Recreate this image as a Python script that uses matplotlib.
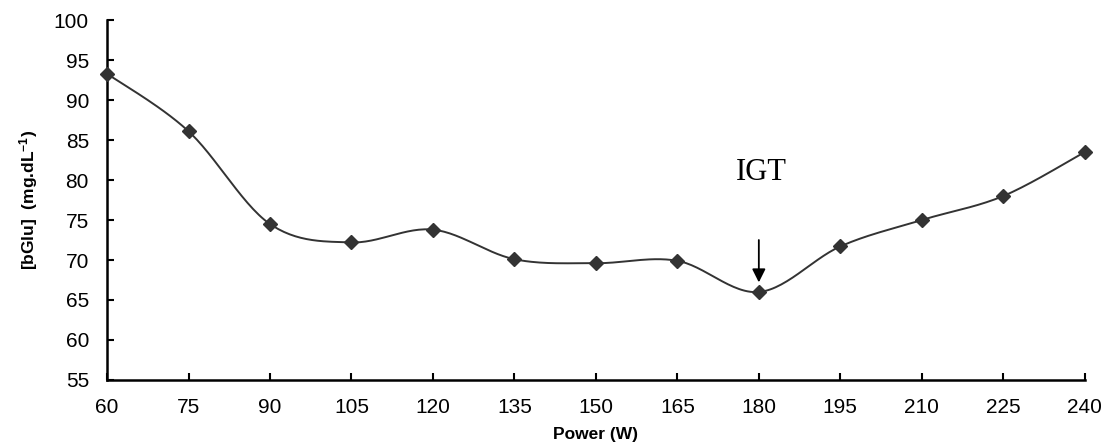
import matplotlib
matplotlib.use("Agg")
import matplotlib.pyplot as plt
import numpy as np

# data
power = [60, 75, 90, 105, 120, 135, 150, 165, 180, 195, 210, 225, 240]
bglu = [93.3, 86.1, 74.5, 72.2, 73.8, 70.1, 69.6, 69.9, 66.0, 71.7, 75.0, 78.0, 83.5]


# smoothed line like the spreadsheet one (Catmull-Rom through the points)
def smooth(x, y, n=30):
    x = np.asarray(x, float)
    y = np.asarray(y, float)
    px = np.concatenate([[x[0]], x, [x[-1]]])
    py = np.concatenate([[y[0]], y, [y[-1]]])
    xs, ys = [], []
    t = np.linspace(0, 1, n)
    for i in range(1, len(px) - 2):
        p0 = np.array([px[i], py[i]])
        p3 = np.array([px[i + 1], py[i + 1]])
        c1 = p0 + (p3 - np.array([px[i - 1], py[i - 1]])) / 6
        c2 = p3 - (np.array([px[i + 2], py[i + 2]]) - p0) / 6
        b = ((1 - t) ** 3)[:, None] * p0 + (3 * (1 - t) ** 2 * t)[:, None] * c1 \
            + (3 * (1 - t) * t ** 2)[:, None] * c2 + (t ** 3)[:, None] * p3
        xs.extend(b[:, 0])
        ys.extend(b[:, 1])
    return xs, ys


plt.rcParams['font.family'] = ['Liberation Sans', 'DejaVu Sans']
plt.rcParams['mathtext.default'] = 'regular'

fig = plt.figure(figsize=(11.08, 4.47), dpi=100)
ax = fig.add_axes([0.0966, 0.150, 0.8824, 0.805])

sx, sy = smooth(power, bglu)
ax.plot(sx, sy, color='#333333', lw=1.4, clip_on=False)
ax.plot(power, bglu, 'D', color='#333333', ms=7, clip_on=False, zorder=3)

ax.annotate('', xy=(180, 67.2), xytext=(180, 72.5),
            arrowprops=dict(arrowstyle='-|>', color='black', lw=1.3,
                            mutation_scale=20, shrinkA=0, shrinkB=0))
ax.text(180.5, 81, 'IGT', family='Liberation Serif', fontsize=22,
        ha='center', va='center')

ax.set_xlim(60, 240)
ax.set_ylim(55, 100)
ax.set_xticks(power)
ax.set_yticks(np.arange(55, 101, 5))
ax.tick_params(direction='in', length=5, width=1.5, labelsize=15)
ax.tick_params(axis='y', pad=13)
ax.tick_params(axis='x', pad=13)
for s in ['top', 'right']:
    ax.spines[s].set_visible(False)
for s in ['left', 'bottom']:
    ax.spines[s].set_linewidth(1.8)

ax.set_xlabel('Power (W)', fontsize=12.5, fontweight='bold', labelpad=7)
ax.set_ylabel('[bGlu]  (mg.dL$^{-1}$)', fontsize=12.5, fontweight='bold', labelpad=10)

fig.savefig('out.png', dpi=100)
